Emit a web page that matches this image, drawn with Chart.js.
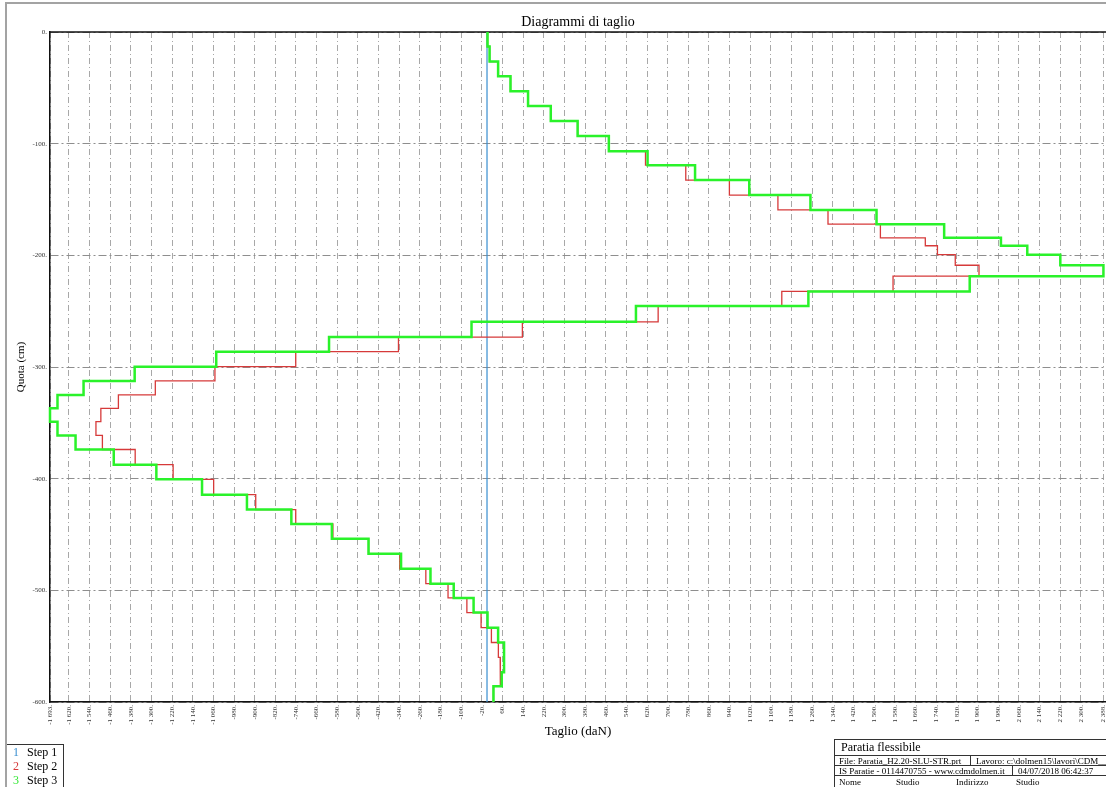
<!DOCTYPE html>
<html>
<head>
<meta charset="utf-8">
<title>Diagrammi di taglio</title>
<script src="https://cdn.jsdelivr.net/npm/chart.js@4.4.1/dist/chart.umd.min.js"></script>
<style>
  body { margin: 0; background: #fff; }
  #wrap { position: relative; width: 1106px; height: 787px; overflow: hidden; font-family: "Liberation Serif", serif; color: #000; }
  #chart { position: absolute; left: 0; top: 0; }
  .frame-top { position: absolute; left: 5px; top: 2px; width: 1101px; height: 2px; background: #a3a3a3; }
  .frame-left { position: absolute; left: 5px; top: 2px; width: 2px; height: 785px; background: #a3a3a3; }

  /* legend box, bottom left */
  #legend { position: absolute; left: 7px; top: 744px; width: 56px; height: 43px; border-top: 1px solid #333; border-right: 1px solid #333; font-size: 12px; }
  #legend div { height: 14px; line-height: 14px; white-space: nowrap; }
  #legend span.n { display: inline-block; width: 14px; padding-left: 6px; }

  /* title block, bottom right */
  #cartiglio { position: absolute; left: 834px; top: 739px; width: 300px; height: 48px; border-left: 1px solid #333; border-top: 1px solid #333; }
  #cartiglio .row { position: absolute; left: 0; width: 300px; border-top: 1px solid #333; font-size: 9px; white-space: nowrap; }
  #cartiglio .cell { position: absolute; top: 0; }
  #cartiglio .sep { position: absolute; top: 0; width: 1px; height: 100%; background: #333; }
</style>
</head>
<body>
<div id="wrap">
  <canvas id="chart" width="1106" height="787"></canvas>
  <div class="frame-top"></div>
  <div class="frame-left"></div>

  <div id="legend">
    <div><span class="n" style="color:#3a8fd0">1</span>Step 1</div>
    <div><span class="n" style="color:#d63a3a">2</span>Step 2</div>
    <div><span class="n" style="color:#33e833">3</span>Step 3</div>
  </div>

  <div id="cartiglio">
    <div style="position:absolute;left:6px;top:0;height:15px;line-height:15px;font-size:12px;">Paratia flessibile</div>
    <div class="row" style="top:15px;height:10px;line-height:10px;">
      <span class="cell" style="left:4px">File: Paratia_H2.20-SLU-STR.prt</span>
      <span class="sep" style="left:135px"></span>
      <span class="cell" style="left:141px">Lavoro: c:\dolmen15\lavori\CDM__</span>
    </div>
    <div class="row" style="top:25px;height:10px;line-height:10px;">
      <span class="cell" style="left:4px">IS Paratie - 0114470755 - www.cdmdolmen.it</span>
      <span class="sep" style="left:177px"></span>
      <span class="cell" style="left:183px">04/07/2018 06:42:37</span>
    </div>
    <div class="row" style="top:35px;height:13px;line-height:12px;">
      <span class="cell" style="left:4px">Nome</span>
      <span class="cell" style="left:61px">Studio</span>
      <span class="cell" style="left:121px">Indirizzo</span>
      <span class="cell" style="left:181px">Studio</span>
    </div>
  </div>
</div>

<script>
// Element boundaries along the wall (cm)
const depthLevels = [0, -13, -26.5, -39.7, -53, -66.3, -79.6, -93.1, -106.7, -119.3,
  -132.6, -146, -159.3, -172.1, -184.3, -191.4, -199.4, -208.9, -218.7, -232.3,
  -245.4, -259.5, -273.2, -286.3, -299.7, -312.5, -325, -337, -349, -361.3,
  -373.9, -387.5, -400.6, -414.3, -427.7, -440.5, -453.9, -467.3, -480.7, -494,
  -506.8, -519.9, -533.4, -546.7, -560, -573.3, -586, -600];

// Shear per element (daN), one value per segment between two levels
const step1 = [0, 0, 0, 0, 0, 0, 0, 0, 0, 0, 0, 0, 0, 0, 0, 0, 0, 0, 0, 0, 0, 0, 0, 0,
  0, 0, 0, 0, 0, 0, 0, 0, 0, 0, 0, 0, 0, 0, 0, 0, 0, 0, 0, 0, 0, 0, 0];

const step2 = [2, 10, 43, 91, 159, 247, 351, 472, 614, 770, 939, 1127, 1321, 1524,
  1698, 1745, 1814, 1906, 1573, 1142, 663, 137, -343, -741, -1054, -1285, -1428,
  -1496, -1515, -1490, -1363, -1216, -1059, -896, -741, -597, -459, -338, -237,
  -151, -78, -23, 17, 44, 51, 52, 25];

const step3 = [2, 10, 43, 91, 159, 247, 351, 472, 622, 806, 1016, 1253, 1509, 1771,
  1991, 2093, 2221, 2388, 1870, 1245, 577, -60, -612, -1049, -1365, -1563, -1664,
  -1693, -1664, -1594, -1446, -1281, -1104, -930, -758, -601, -459, -333, -219,
  -129, -52, 2, 43, 66, 66, 57, 25];

// Axis ticks
const xTicks = [-1693, -1620, -1540, -1460, -1380, -1300, -1220, -1140, -1060, -980,
  -900, -820, -740, -660, -580, -500, -420, -340, -260, -180, -100, -20, 60, 140,
  220, 300, 380, 460, 540, 620, 700, 780, 860, 940, 1020, 1100, 1180, 1260, 1340,
  1420, 1500, 1580, 1660, 1740, 1820, 1900, 1980, 2060, 2140, 2220, 2300, 2388];
const yTicks = [0, -100, -200, -300, -400, -500, -600];

// Turn per-element values into a stepped polyline
function stepPoints(values) {
  const pts = [];
  values.forEach((v, i) => {
    pts.push({ x: v, y: depthLevels[i] });
    pts.push({ x: v, y: depthLevels[i + 1] });
  });
  return pts;
}

// "-1 620." style labels
function fmt(v) {
  const s = Math.abs(v).toString().replace(/\B(?=(\d{3})+(?!\d))/g, " ");
  return (v < 0 ? "-" : "") + s + ".";
}

// Solid black line on top of the plot
const topFrame = {
  id: "topFrame",
  beforeDatasetsDraw(chart) {
    const { ctx, chartArea } = chart;
    ctx.save();
    ctx.strokeStyle = "#111";
    ctx.lineWidth = 1.5;
    ctx.beginPath();
    ctx.moveTo(chartArea.left, chartArea.top);
    ctx.lineTo(chartArea.right, chartArea.top);
    ctx.stroke();
    ctx.restore();
  }
};

const tickFont = { family: "Liberation Serif", size: 7 };

new Chart(document.getElementById("chart"), {
  type: "scatter",
  data: {
    datasets: [
      { label: "Step 3", data: stepPoints(step3), borderColor: "#2af22a", borderWidth: 2.5, order: 0 },
      { label: "Step 2", data: stepPoints(step2), borderColor: "#d63a3a", borderWidth: 1.3, order: 1 },
      { label: "Step 1", data: stepPoints(step1), borderColor: "#3a8fd0", borderWidth: 1.2, order: 2 }
    ].map(d => Object.assign(d, { showLine: true, pointRadius: 0, tension: 0, clip: false }))
  },
  options: {
    responsive: false,
    animation: false,
    events: [],
    layout: { padding: 0 },
    plugins: {
      legend: { display: false },
      tooltip: { enabled: false },
      title: {
        display: true,
        text: "Diagrammi di taglio",
        fullSize: false,
        color: "#000",
        font: { family: "Liberation Serif", size: 14, weight: "normal" },
        padding: { top: 13.6, bottom: 1.6 }
      }
    },
    scales: {
      x: {
        type: "linear",
        min: -1693,
        max: 2398,
        afterBuildTicks: (scale) => { scale.ticks = xTicks.map(v => ({ value: v })); },
        afterFit: (scale) => { scale.height = 85; scale.paddingLeft = 0; scale.paddingRight = 0; },
        ticks: {
          autoSkip: false,
          minRotation: 90,
          maxRotation: 90,
          padding: 3,
          color: "#333",
          font: tickFont,
          callback: (v) => fmt(v)
        },
        grid: { color: "#a8a8a8", lineWidth: 1, drawTicks: false },
        border: { display: true, color: "#111", width: 1.5, dash: [6, 3, 1, 3] },
        title: {
          display: true,
          text: "Taglio (daN)",
          color: "#000",
          font: { family: "Liberation Serif", size: 13 },
          padding: { top: 0, bottom: 48 }
        }
      },
      y: {
        type: "linear",
        min: -600,
        max: 0,
        afterBuildTicks: (scale) => { scale.ticks = yTicks.map(v => ({ value: v })); },
        afterFit: (scale) => { scale.width = 50; scale.paddingTop = 0; scale.paddingBottom = 0; },
        ticks: {
          padding: 3,
          color: "#333",
          font: tickFont,
          callback: (v) => fmt(v)
        },
        grid: { color: "#8e8e8e", lineWidth: 1, drawTicks: false },
        border: { display: true, color: "#111", width: 1.5, dash: [8, 3, 2, 3] },
        title: {
          display: true,
          text: "Quota (cm)",
          color: "#000",
          font: { family: "Liberation Serif", size: 11 },
          padding: { top: 15, bottom: 0 }
        }
      }
    }
  },
  plugins: [topFrame]
});
</script>
</body>
</html>
